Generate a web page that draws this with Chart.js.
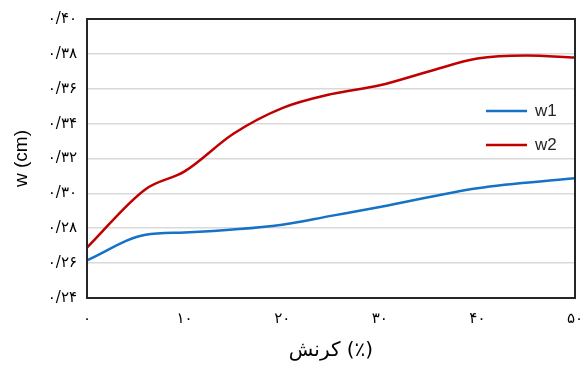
<!DOCTYPE html>
<html>
<head>
<meta charset="utf-8">
<script src="https://cdn.jsdelivr.net/npm/chart.js@4.4.1/dist/chart.umd.min.js"></script>
<style>
  body { margin: 0; background: #fff; }
  #wrap { width: 580px; height: 367px; }
</style>
</head>
<body>
<div id="wrap"><canvas id="w-chart" width="580" height="367"></canvas></div>
<script>
// strain (%)
const strainW1 = [0, 6, 10, 20, 25, 30, 40, 50];
const valuesW1 = [0.2616, 0.2763, 0.2776, 0.2820, 0.2871, 0.2922, 0.3030, 0.3087];
const strainW2 = [0, 6, 10, 15, 20, 25, 30, 35, 40, 45, 50];
const valuesW2 = [0.2689, 0.3024, 0.3126, 0.3342, 0.3489, 0.3569, 0.3620, 0.3699, 0.3773, 0.3790, 0.3779];
const seriesLabels = ['w1', 'w2'];
const seriesColors = ['#1672c6', '#c00000'];
const xTicks = [0, 10, 20, 30, 40, 50];
const yTicks = [0.24, 0.26, 0.28, 0.30, 0.32, 0.34, 0.36, 0.38, 0.40];

// 숫자 -> 페르시아 숫자
const faDigits = '۰۱۲۳۴۵۶۷۸۹';
function toFa(str) {
  return String(str).replace(/[0-9]/g, (d) => faDigits[+d]).replace('.', '/');
}

function toPoints(xs, ys) {
  return xs.map((x, i) => ({ x: x, y: ys[i] }));
}

// 플롯 테두리 + 범례
const framePlugin = {
  id: 'frame',
  afterDatasetsDraw(chart) {
    const { ctx, chartArea } = chart;
    ctx.save();
    ctx.strokeStyle = '#262626';
    ctx.lineWidth = 2;
    ctx.strokeRect(chartArea.left, chartArea.top, chartArea.right - chartArea.left, chartArea.bottom - chartArea.top);

    ctx.font = '17px "Liberation Sans", Arial, sans-serif';
    ctx.textBaseline = 'middle';
    chart.data.datasets.forEach((ds, i) => {
      const y = 111 + i * 34;
      ctx.strokeStyle = ds.borderColor;
      ctx.lineWidth = 2.5;
      ctx.beginPath();
      ctx.moveTo(486, y);
      ctx.lineTo(527, y);
      ctx.stroke();
      ctx.fillStyle = '#262626';
      ctx.fillText(ds.label, 535, y);
    });
    ctx.restore();
  },
};

new Chart(document.getElementById('w-chart'), {
  type: 'line',
  data: {
    datasets: [
      {
        label: seriesLabels[0],
        data: toPoints(strainW1, valuesW1),
        borderColor: seriesColors[0],
        borderWidth: 2.5,
        pointRadius: 0,
        cubicInterpolationMode: 'monotone',
      },
      {
        label: seriesLabels[1],
        data: toPoints(strainW2, valuesW2),
        borderColor: seriesColors[1],
        borderWidth: 2.5,
        pointRadius: 0,
        cubicInterpolationMode: 'monotone',
      },
    ],
  },
  options: {
    responsive: false,
    animation: false,
    layout: { padding: { top: 16, right: 5, left: 0, bottom: 0 } },
    plugins: {
      legend: { display: false },
      tooltip: { enabled: false },
    },
    scales: {
      x: {
        type: 'linear',
        min: 0,
        max: 50,
        afterBuildTicks: (s) => { s.ticks = xTicks.map((v) => ({ value: v })); },
        afterFit: (s) => {
          s.height = 69;
          s.paddingLeft = 0;
          s.paddingRight = 0;
        },
        grid: { display: false, drawTicks: false },
        border: { display: false },
        ticks: {
          padding: 12,
          maxRotation: 0,
          color: '#000',
          font: { family: '"DejaVu Sans", sans-serif', size: 15 },
          callback: (v) => toFa(v),
        },
        title: {
          display: true,
          text: 'کرنش (٪)',
          color: '#000',
          font: { family: '"DejaVu Sans", sans-serif', size: 20 },
          padding: { top: 2 },
        },
      },
      y: {
        min: 0.24,
        max: 0.40,
        afterBuildTicks: (s) => { s.ticks = yTicks.map((v) => ({ value: v })); },
        afterFit: (s) => { s.width = 87; },
        grid: { color: '#d9d9d9', lineWidth: 1.5, drawTicks: false },
        border: { display: false },
        ticks: {
          padding: 10,
          color: '#000',
          font: { family: '"DejaVu Sans", sans-serif', size: 15 },
          callback: (v) => toFa(v.toFixed(2)),
        },
        title: {
          display: true,
          text: 'w (cm)',
          color: '#000',
          font: { family: '"Liberation Sans", Arial, sans-serif', size: 19 },
          padding: { top: 10, bottom: 0 },
        },
      },
    },
  },
  plugins: [framePlugin],
});
</script>
</body>
</html>
